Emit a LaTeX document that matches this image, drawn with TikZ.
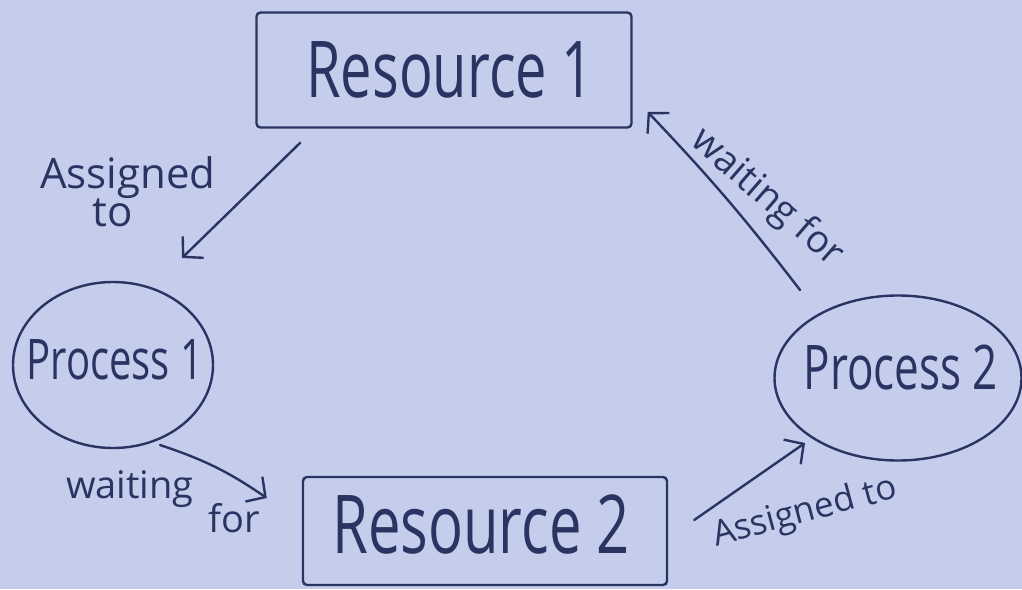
\documentclass[tikz,border=0pt]{standalone}
\usepackage{fontspec}
\setmainfont{Open Sans}
\usetikzlibrary{arrows.meta,shapes.geometric}
\definecolor{paper}{RGB}{196,206,236}
\definecolor{ink}{RGB}{42,52,98}
\newcommand\tallbox[2][1.4]{\scalebox{1}[#1]{#2}}
\begin{document}
\begin{tikzpicture}[x=1pt,y=-1pt,
  resbox/.style={draw=ink, line width=2.4pt, rounded corners=4pt, inner sep=0pt},
  proc/.style={ellipse, draw=ink, line width=2.4pt, inner sep=0pt},
  bigtext/.style={text=ink, inner sep=0pt},
  lbl/.style={text=ink, inner sep=0pt, font=\fontsize{38}{42}\selectfont, align=left},
  conn/.style={draw=ink, line width=2.4pt, line cap=round,
    -{Straight Barb[length=14pt,width=30pt,line width=2.4pt]}}]
\path[fill=paper] (0,0) rectangle (1022,589);
\useasboundingbox (0,0) rectangle (1022,589);

% nodes
\node[resbox, minimum width=375pt, minimum height=115pt] (R1) at (444,70) {};
\node[bigtext, font=\fontsize{56}{60}\selectfont] (R1t) at (450,70) {\tallbox{Resource 1}};
\node[resbox, minimum width=364pt, minimum height=108pt] (R2) at (485,531) {};
\node[bigtext, font=\fontsize{58}{62}\selectfont] (R2t) at (481,524) {\tallbox{Resource 2}};
\node[proc, minimum width=200pt, minimum height=166pt] (P1) at (113,365) {};
\node[bigtext, font=\fontsize{40}{44}\selectfont] (P1t) at (115,360) {\tallbox{Process 1}};
\node[proc, minimum width=247pt, minimum height=165pt] (P2) at (898,378) {};
\node[bigtext, font=\fontsize{44}{48}\selectfont] (P2t) at (901,367) {\tallbox{Process 2}};

% connectors
\draw[conn] ([xshift=45pt,yshift=-14pt]R1.south west) -- ([xshift=69pt,yshift=107pt]P1.center);
\draw[conn] ([xshift=47pt,yshift=-80pt]P1.center) to[bend left=8] ([xshift=-35pt,yshift=33pt]R2.west);
\draw[conn] ([xshift=26pt,yshift=11pt]R2.east) -- ([xshift=-93pt,yshift=-65pt]P2.center);
\draw[conn] ([xshift=-98pt,yshift=88pt]P2.center) to[bend right=3] ([xshift=15pt,yshift=-42pt]R1.east);

% labels
\node[lbl, font=\fontsize{42}{46}\selectfont, anchor=north west] (L1) at (40,156) {Assigned\\[-8pt]\hspace*{52pt}to};
\node[lbl, anchor=north west] (L2) at (66,470) {waiting\\[-8pt]\hspace*{142pt}for};
\node[lbl, font=\fontsize{35}{40}\selectfont, rotate=15] (L3) at (805,513) {Assigned to};
\node[lbl, font=\fontsize{38}{42}\selectfont, rotate=-41] (L4) at (767,198) {waiting for};
\end{tikzpicture}
\end{document}
